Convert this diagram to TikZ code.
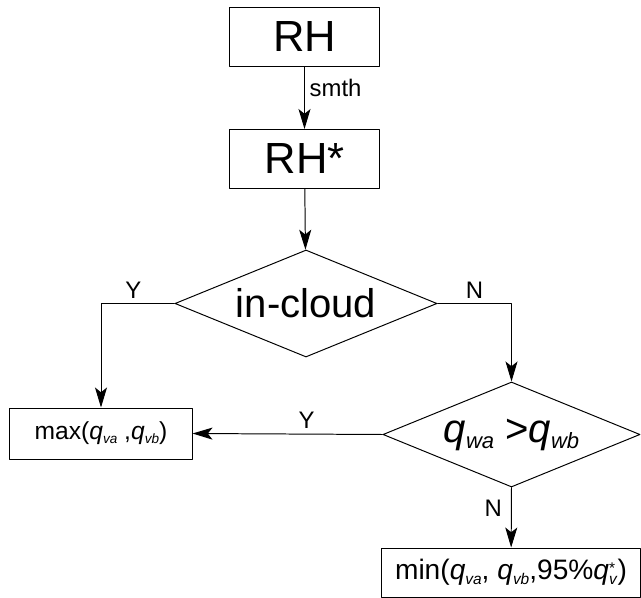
\documentclass[tikz,border=0pt]{standalone}
\usepackage{fontspec}
\setmainfont{Liberation Sans}
\usetikzlibrary{shapes.geometric,arrows.meta}

% q with a small subscript, set low
\newcommand{\qsb}[1]{\textit{q}\raisebox{-0.3ex}{\scalebox{0.55}{\textit{#1}}}}

\begin{document}
\begin{tikzpicture}[x=0.025cm, y=-0.025cm, line cap=round, line join=round,
    rhbox/.style={draw, line width=0.7pt, minimum width=3.725cm, minimum height=1.475cm,
      inner sep=0pt, font=\fontsize{31}{31}\selectfont},
    outbox/.style={draw, line width=0.7pt, inner sep=0pt},
    decision/.style={draw, diamond, aspect=2.45, line width=0.7pt, inner sep=0pt,
      font=\fontsize{28.5}{28.5}\selectfont},
    flow/.style={line width=0.7pt, -{Stealth[length=5mm, width=3mm, inset=1.2mm]}},
    lbl/.style={font=\fontsize{17}{17}\selectfont}]
      \path[use as bounding box] (0,0) rectangle (641,598);

      \node[rhbox] (rh) at (304.5,36.5) {RH};
      \node[rhbox] (rhs) at (304.5,159) {RH*};

      \node[decision, minimum width=6.55cm, minimum height=2.675cm] (cloud) at (306,303.5) {in-cloud};
      \node[decision, minimum width=6.425cm, minimum height=2.625cm] (cmp) at (511.5,434.5) {\qsb{wa} >\qsb{wb}};

      \node[outbox, minimum width=4.55cm, minimum height=1.275cm,
        font=\fontsize{17.5}{17.5}\selectfont] (maxv) at (101,433.5)
        {max(\qsb{va} ,\qsb{vb})};
      \node[outbox, minimum width=6.45cm, minimum height=1.225cm,
        font=\fontsize{20}{20}\selectfont] (minv) at (511,572.5)
        {min(\qsb{va}, \qsb{vb},95\%\textit{q}\raisebox{-0.3ex}{\scalebox{0.55}{\shortstack[l]{*\\\textit{v}}}})};

      \draw[flow] (rh) -- node[lbl, right, pos=0.35] {smth} (rhs);
      \draw[flow] (rhs) -- (cloud);

      \draw[flow] (cloud.west) -| node[lbl, above, pos=0.28] {Y} (maxv);
      \draw[flow] (cloud.east) -| node[lbl, above, pos=0.25] {N} (cmp);

      \draw[flow] (cmp.west) -- node[lbl, above, pos=0.4] {Y} (maxv.east);
      \draw[flow] (cmp.south) -- node[lbl, left, pos=0.34, xshift=-3pt] {N} (minv);

    \end{tikzpicture}
\end{document}
